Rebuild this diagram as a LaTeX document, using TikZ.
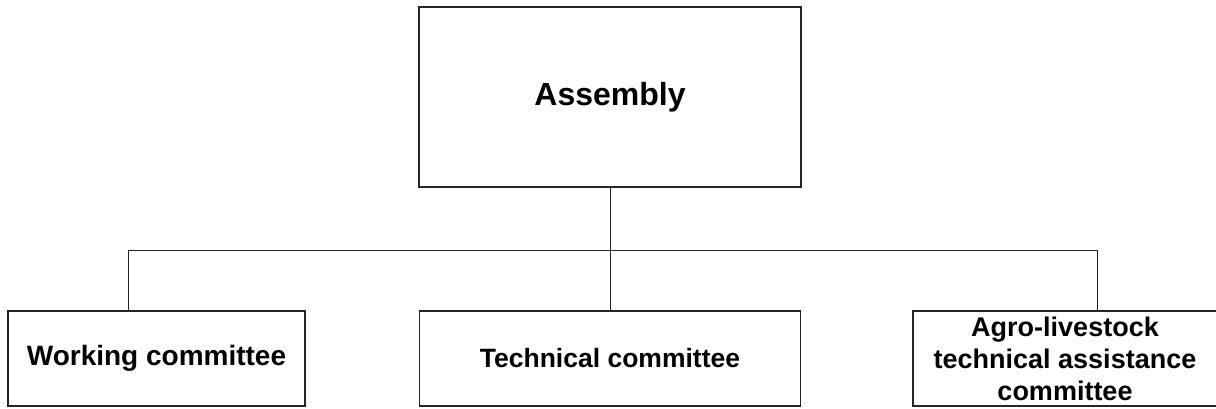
\documentclass[tikz,border=0pt]{standalone}
\usepackage{fontspec}
\setmainfont{Liberation Sans}
\begin{document}
\begin{tikzpicture}[x=1pt,y=-1pt,
  box/.style={draw=black!85, line width=1.1pt, inner sep=0pt, align=center,
    font=\bfseries\fontsize{26.5}{31}\selectfont},
  link/.style={draw=black!85, line width=1pt}]
\useasboundingbox (0,0) rectangle (1216,408);
\clip (0,0) rectangle (1216,408);
\node[box, minimum width=382pt, minimum height=180pt, font=\bfseries\fontsize{32}{38}\selectfont] (A) at (610,97) {Assembly};
\node[box, minimum width=297pt, minimum height=95pt, font=\bfseries\fontsize{28}{33}\selectfont] (W) at (156.5,358.5) {Working committee};
\node[box, minimum width=381pt, minimum height=95pt] (T) at (610,358.5) {Technical committee};
\node[box, minimum width=304pt, minimum height=95pt, font=\bfseries\fontsize{27}{32}\selectfont] (G) at (1065,358.5) {Agro-livestock\\technical assistance\\committee};
\coordinate (wb) at (128,250);
\coordinate (gb) at (1097,250);
\draw[link] (A.south) -- (T.north);
\draw[link] (W.north -| wb) -- (wb) -- (gb) -- (G.north -| gb);
\end{tikzpicture}
\end{document}
